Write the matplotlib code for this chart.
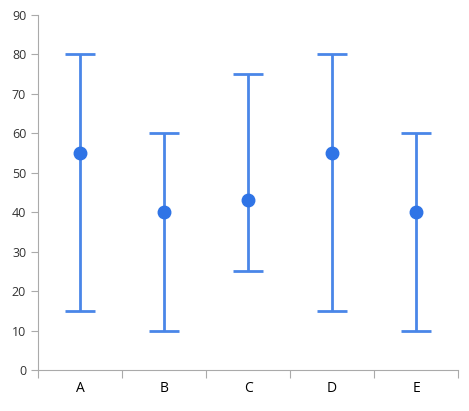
import numpy as np
import matplotlib.pyplot as plt

categories = ["A", "B", "C", "D", "E"]
centers = [55, 40, 43, 55, 40]
lows = [15, 10, 25, 15, 10]
highs = [80, 60, 75, 80, 60]

plt.rcParams["font.family"] = ["Open Sans", "DejaVu Sans"]
fig = plt.figure(figsize=(4.69, 4.11), dpi=100)
ax = fig.add_axes([0.081, 0.0998, 0.896, 0.8637])

x = np.arange(len(categories))
c = np.array(centers)
yerr = [c - np.array(lows), np.array(highs) - c]
ax.errorbar(x, c, yerr=yerr, fmt="none", ecolor="#4a86e8", elinewidth=2,
            capsize=11, capthick=2)
ax.plot(x, c, "o", color="#2f74e6", markersize=9)

ax.set_xlim(-0.5, len(categories) - 0.5)
ax.set_ylim(0, 90)
ax.set_yticks(range(0, 91, 10))
ax.set_xticks(np.arange(-0.5, len(categories)), minor=False)
ax.set_xticklabels([])
ax.set_xticks(x, minor=True)
ax.set_xticklabels(categories, minor=True)
ax.tick_params(axis="x", which="major", length=6, color="#aaaaaa")
ax.tick_params(axis="x", which="minor", length=0, pad=8)
ax.tick_params(axis="y", length=5, color="#aaaaaa")
ax.tick_params(labelsize=9, labelcolor="#333333")
for s in ["top", "right"]:
    ax.spines[s].set_visible(False)
for s in ["left", "bottom"]:
    ax.spines[s].set_color("#aaaaaa")

fig.savefig("out.png", dpi=100)
